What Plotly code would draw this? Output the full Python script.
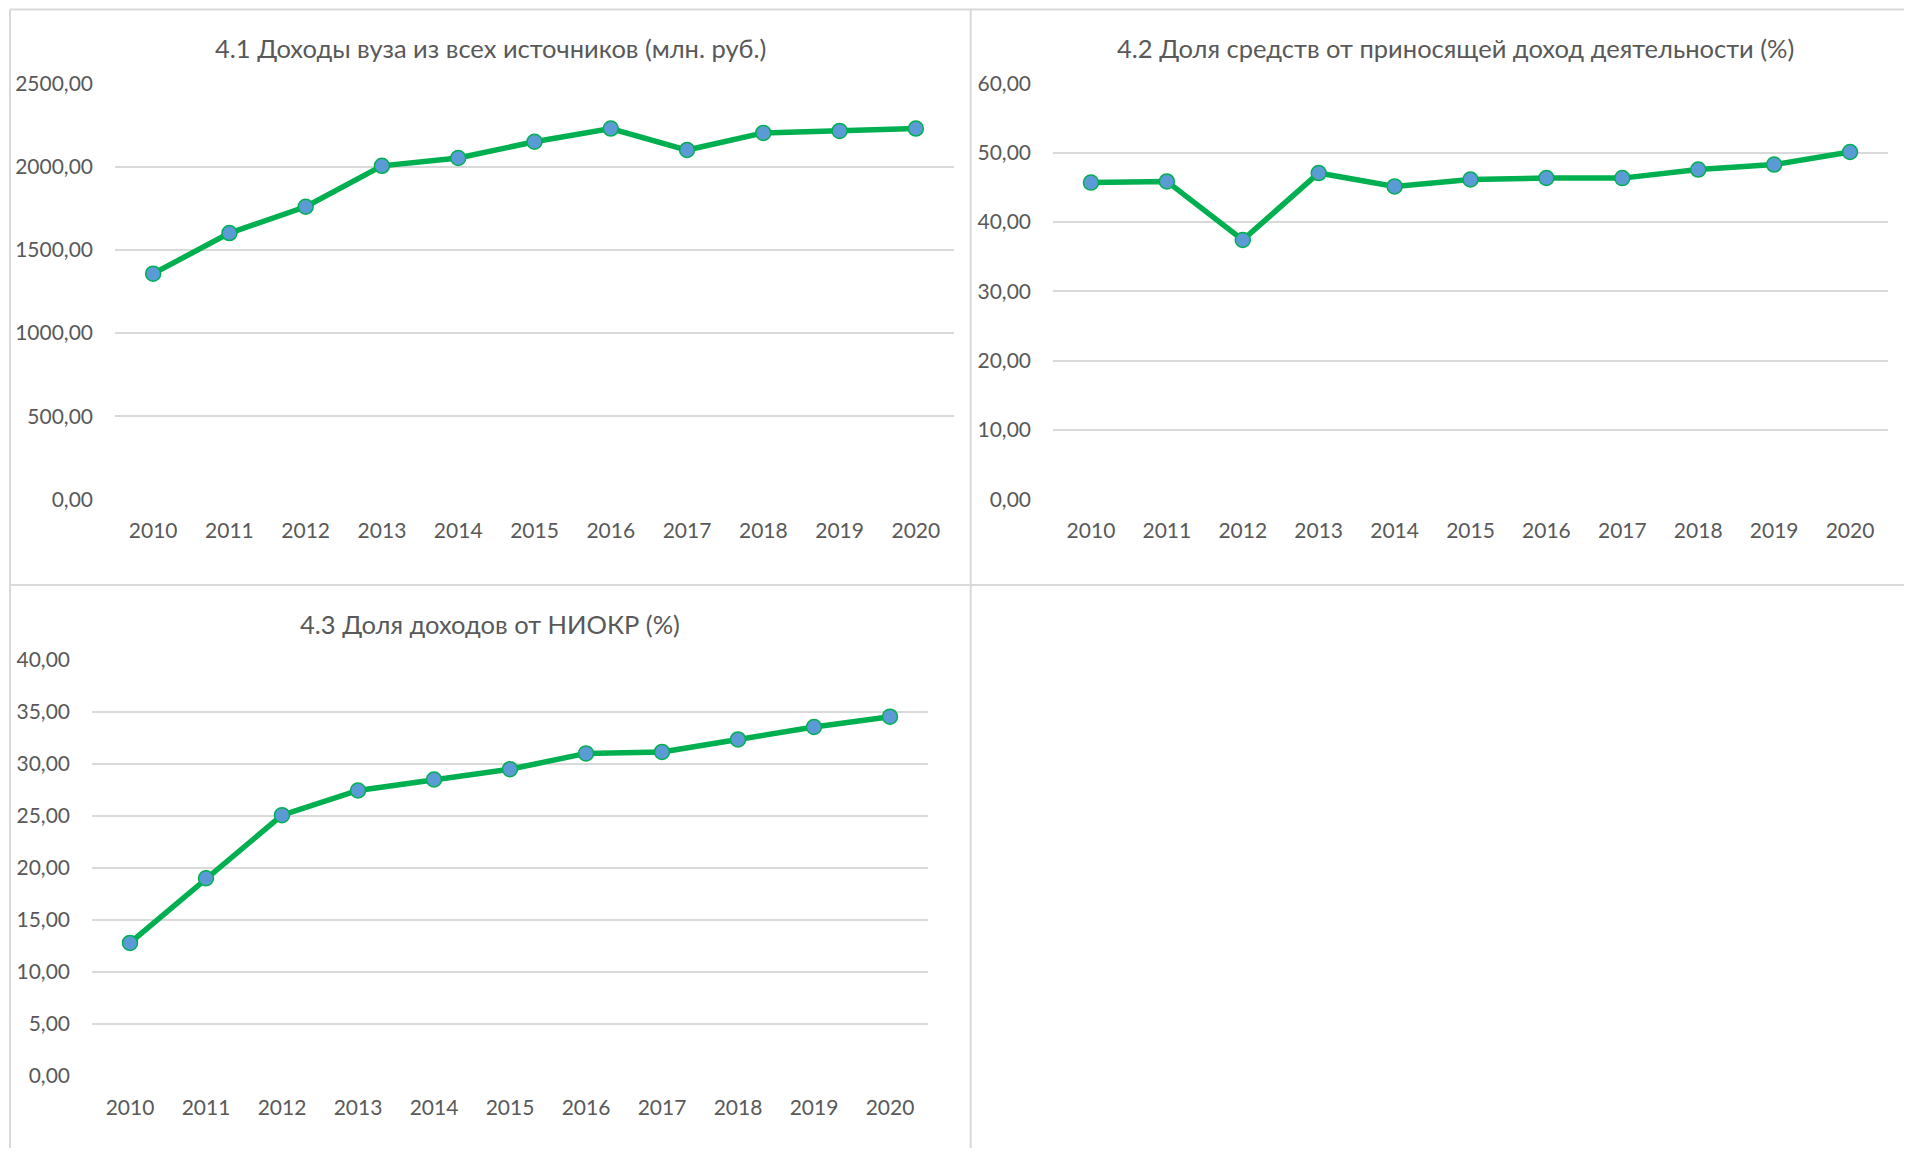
import plotly.graph_objects as go

years = ["2010", "2011", "2012", "2013", "2014", "2015", "2016", "2017", "2018", "2019", "2020"]
income_total = [1357, 1601, 1759, 2005, 2052, 2150, 2229, 2100, 2203, 2215, 2229]
share_paid = [45.70, 45.87, 37.42, 47.08, 45.15, 46.15, 46.37, 46.35, 47.58, 48.30, 50.12]
share_rnd = [12.76, 18.98, 25.05, 27.42, 28.48, 29.47, 30.99, 31.13, 32.33, 33.53, 34.52]

titles = [
    "4.1 Доходы вуза из всех источников (млн. руб.)",
    "4.2 Доля средств от приносящей доход деятельности (%)",
    "4.3 Доля доходов от НИОКР (%)",
]

W, H = 1896, 1140
FONT = "Lato"
TXT = "#595959"
GRID = "#D9D9D9"
GREEN = "#00B050"
BLUE = "#5B9BD5"


def fx(px):
    return px / W


def fy(py):
    return 1 - py / H


fig = go.Figure()

series = [income_total, share_paid, share_rnd]
axes = [("x", "y"), ("x2", "y2"), ("x3", "y3")]
for s, (xa, ya) in zip(series, axes):
    fig.add_trace(go.Scatter(
        x=years, y=s, xaxis=xa, yaxis=ya, mode="lines+markers",
        line=dict(color=GREEN, width=5.5),
        marker=dict(color=BLUE, size=15, line=dict(color=GREEN, width=1.5)),
        showlegend=False, hoverinfo="x+y", cliponaxis=False,
    ))

# plot areas in figure pixel coords (left, right, top, bottom)
areas = [
    (107, 946, 75.5, 491.4),
    (1045, 1880, 75.5, 491.4),
    (84, 920, 651.7, 1067.6),
]
ranges = [(0, 2500, 500), (0, 60, 10), (0, 40, 5)]

layout = dict(
    width=W, height=H, margin=dict(l=0, r=0, t=0, b=0, autoexpand=False),
    paper_bgcolor="white", plot_bgcolor="white",
    separators=",.",
    font=dict(family=FONT, color=TXT, size=21),
    showlegend=False,
)
for i, ((l, r, t, b), (lo, hi, dt)) in enumerate(zip(areas, ranges)):
    sfx = "" if i == 0 else str(i + 1)
    layout["xaxis" + sfx] = dict(
        domain=[fx(l), fx(r)], anchor="y" + sfx, type="category",
        categoryorder="array", categoryarray=years, range=[-0.5, 10.5],
        showgrid=False, showline=False, zeroline=False, ticks="", automargin=False,
        tickfont=dict(family=FONT, color=TXT, size=21), ticklabelstandoff=17,
    )
    layout["yaxis" + sfx] = dict(
        domain=[fy(b), fy(t)], anchor="x" + sfx, range=[lo, hi], dtick=dt, tick0=0,
        tickformat=".2f", showgrid=True, gridcolor=GRID, gridwidth=1.5,
        zeroline=False, showline=False, ticks="", automargin=False,
        tickfont=dict(family=FONT, color=TXT, size=21), ticklabelstandoff=21,
    )

fig.update_layout(**layout)

# titles
title_pos = [(482, 40), (1447, 40), (482, 616)]
for txt, (px, py) in zip(titles, title_pos):
    fig.add_annotation(
        text=txt, xref="paper", yref="paper", x=fx(px), y=fy(py),
        xanchor="center", yanchor="middle", showarrow=False,
        font=dict(family=FONT, color=TXT, size=25.5),
    )

# panel borders
border = dict(color="#D9D9D9", width=2)
lines = [
    (2, 1.5, W, 1.5),
    (2, 1.5, 2, H),
    (962.7, 1.5, 962.7, H),
    (2, 577, W, 577),
]
for x0, y0, x1, y1 in lines:
    fig.add_shape(type="line", xref="paper", yref="paper",
                  x0=fx(x0), y0=fy(y0), x1=fx(x1), y1=fy(y1), line=border)

fig.write_html("out.html")
